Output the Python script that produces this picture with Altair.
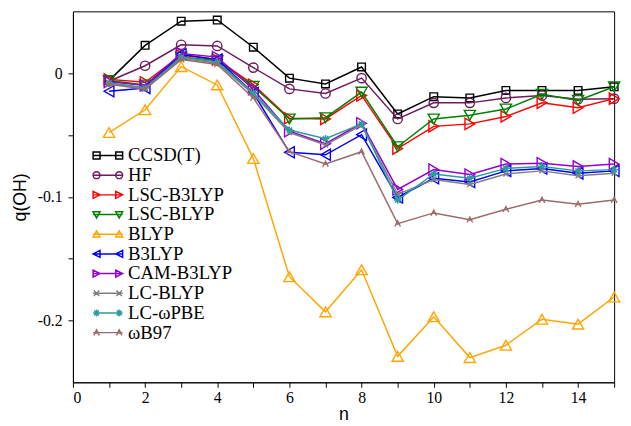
import altair as alt
import pandas as pd

n_values = list(range(1, 16))

ccsdt = [-0.006, 0.0225, 0.042, 0.043, 0.021, -0.004, -0.0087, 0.005, -0.033, -0.019, -0.020, -0.014, -0.014, -0.014, -0.011]
hf = [-0.0065, 0.006, 0.023, 0.022, 0.0045, -0.0127, -0.0164, -0.004, -0.037, -0.024, -0.024, -0.020, -0.018, -0.021, -0.0206]
lsc_b3lyp = [-0.005, -0.0074, 0.0145, 0.011, -0.0093, -0.0365, -0.037, -0.018, -0.061, -0.043, -0.041, -0.035, -0.024, -0.028, -0.0206]
lsc_blyp = [-0.006, -0.0095, 0.013, 0.010, -0.0106, -0.037, -0.036, -0.0153, -0.0595, -0.037, -0.034, -0.029, -0.017, -0.022, -0.011]
blyp = [-0.048, -0.0296, 0.0053, -0.0095, -0.069, -0.1646, -0.193, -0.159, -0.229, -0.197, -0.230, -0.220, -0.199, -0.203, -0.181]
b3lyp = [-0.0146, -0.012, 0.0153, 0.011, -0.016, -0.064, -0.066, -0.0497, -0.1005, -0.085, -0.088, -0.079, -0.077, -0.081, -0.079]
cam_b3lyp = [-0.007, -0.010, 0.016, 0.013, -0.013, -0.047, -0.057, -0.0405, -0.094, -0.078, -0.082, -0.0735, -0.0728, -0.0754, -0.0735]
lc_blyp = [-0.008, -0.012, 0.012, 0.008, -0.017, -0.048, -0.058, -0.042, -0.098, -0.086, -0.090, -0.0815, -0.079, -0.083, -0.081]
lc_wpbe = [-0.008, -0.012, 0.013, 0.009, -0.016, -0.046, -0.053, -0.041, -0.1026, -0.0815, -0.085, -0.077, -0.0754, -0.079, -0.078]
wb97 = [-0.009, -0.013, 0.011, 0.007, -0.020, -0.0635, -0.0735, -0.0635, -0.1217, -0.113, -0.1185, -0.110, -0.1026, -0.106, -0.1026]

series_names = ["CCSD(T)", "HF", "LSC-B3LYP", "LSC-BLYP", "BLYP", "B3LYP",
                "CAM-B3LYP", "LC-BLYP", "LC-ωPBE", "ωB97"]
series_values = [ccsdt, hf, lsc_b3lyp, lsc_blyp, blyp, b3lyp, cam_b3lyp, lc_blyp, lc_wpbe, wb97]
colors = ["#000000", "#6e1a5c", "#ff0000", "#008000", "#ffa500", "#0000ff",
          "#9400d3", "#808080", "#2a9d9d", "#9c6a6a"]
marker_kinds = ["square", "circle", "tri-right", "tri-down", "tri-up", "tri-left",
                "tri-right", "x", "asterisk", "caret"]

rows = []
for name, vals in zip(series_names, series_values):
    for n, v in zip(n_values, vals):
        rows.append({"series": name, "n": n, "q": v})
df = pd.DataFrame(rows)


def marker_path(kind, c, h):
    if kind == "square":
        return f"M{c-h},{-h}H{c+h}V{h}H{c-h}Z"
    if kind == "circle":
        return f"M{c+h},0A{h},{h} 0 1,1 {c-h},0A{h},{h} 0 1,1 {c+h},0"
    if kind == "tri-right":
        return f"M{c-h},{-h}L{c+h},0L{c-h},{h}Z"
    if kind == "tri-left":
        return f"M{c+h},{-h}L{c-h},0L{c+h},{h}Z"
    if kind == "tri-up":
        return f"M{c-h},{h*0.8}L{c+h},{h*0.8}L{c},{-h}Z"
    if kind == "tri-down":
        return f"M{c-h},{-h*0.8}L{c+h},{-h*0.8}L{c},{h}Z"
    if kind == "x":
        return f"M{c-h*0.8},{-h*0.8}L{c+h*0.8},{h*0.8}M{c-h*0.8},{h*0.8}L{c+h*0.8},{-h*0.8}"
    if kind == "asterisk":
        return (f"M{c-h},0H{c+h}M{c},{-h}V{h}"
                f"M{c-h*0.7},{-h*0.7}L{c+h*0.7},{h*0.7}M{c-h*0.7},{h*0.7}L{c+h*0.7},{-h*0.7}")
    if kind == "caret":
        return f"M{c-h*0.8},{h*0.8}L{c},{-h*0.8}L{c+h*0.8},{h*0.8}M{c-h*0.4},{h*0.1}H{c+h*0.4}"
    return ""


def legend_path(kind):
    h = 0.7
    return "M-1,0H5" + marker_path(kind, -0.3, h) + marker_path(kind, 4.3, h)


def plot_shape(kind):
    m = {"square": "square", "circle": "circle", "tri-right": "triangle-right",
         "tri-left": "triangle-left", "tri-up": "triangle-up", "tri-down": "triangle-down"}
    if kind in m:
        return m[kind]
    return marker_path(kind, 0, 1)


marker_sizes = {"square": 60, "circle": 90, "tri-right": 130, "tri-left": 130,
                "tri-up": 130, "tri-down": 130, "x": 40, "asterisk": 60, "caret": 50}

x_enc = alt.X("n:Q", scale=alt.Scale(domain=[0, 15], nice=False, zero=False),
              axis=alt.Axis(values=list(range(0, 16)),
                            labelExpr="datum.value % 2 == 0 ? datum.label : ''",
                            title="n", labelPadding=3, titlePadding=0))
y_enc = alt.Y("q:Q", scale=alt.Scale(domain=[-0.25, 0.05], nice=False, zero=False),
              axis=alt.Axis(values=[-0.2, -0.15, -0.1, -0.05, 0.0],
                            labelExpr="abs(datum.value) < 1e-6 ? '0' : abs(datum.value + 0.1) < 1e-6 ? '-0.1' : abs(datum.value + 0.2) < 1e-6 ? '-0.2' : ''",
                            title="q(OH)", labelPadding=6, titlePadding=8))

layers = []
for name, kind, col in zip(series_names, marker_kinds, colors):
    base = alt.Chart(df).transform_filter(alt.datum.series == name)
    line = base.mark_line(strokeWidth=1.5, color=col).encode(x=x_enc, y=y_enc)
    pts = base.mark_point(shape=plot_shape(kind), size=marker_sizes[kind],
                          filled=False, strokeWidth=1.4, opacity=1, color=col).encode(
        x=x_enc, y=y_enc)
    layers += [line, pts]

leg = alt.Legend(orient="none", legendX=16, legendY=137, title=None,
                 labelFont="Liberation Serif", labelFontSize=19, labelColor="black",
                 symbolSize=100, symbolStrokeWidth=1.5, labelOffset=21,
                 rowPadding=-1, padding=0, symbolOpacity=1)

legend_layer = alt.Chart(df).transform_filter("datum.n < 0").mark_point(
    filled=False, strokeWidth=1.5).encode(
    x=x_enc, y=y_enc,
    color=alt.Color("series:N", scale=alt.Scale(domain=series_names, range=colors), legend=leg),
    shape=alt.Shape("series:N",
                    scale=alt.Scale(domain=series_names,
                                    range=[legend_path(k) for k in marker_kinds]),
                    legend=leg))
layers.append(legend_layer)

chart = alt.layer(*layers).properties(
    width=550, height=377,
    padding={"left": 3, "top": 0, "right": 0, "bottom": 0}
).configure_view(stroke="black", strokeWidth=1).configure_axis(
    grid=False, domainColor="black", tickColor="black", tickSize=5,
    labelFont="Liberation Serif", labelFontSize=16, labelColor="black",
    titleFont="Liberation Sans", titleFontSize=18, titleFontWeight="normal",
    titleColor="black"
)

chart.save("out.html", embed_options={"renderer": "svg", "actions": False})
